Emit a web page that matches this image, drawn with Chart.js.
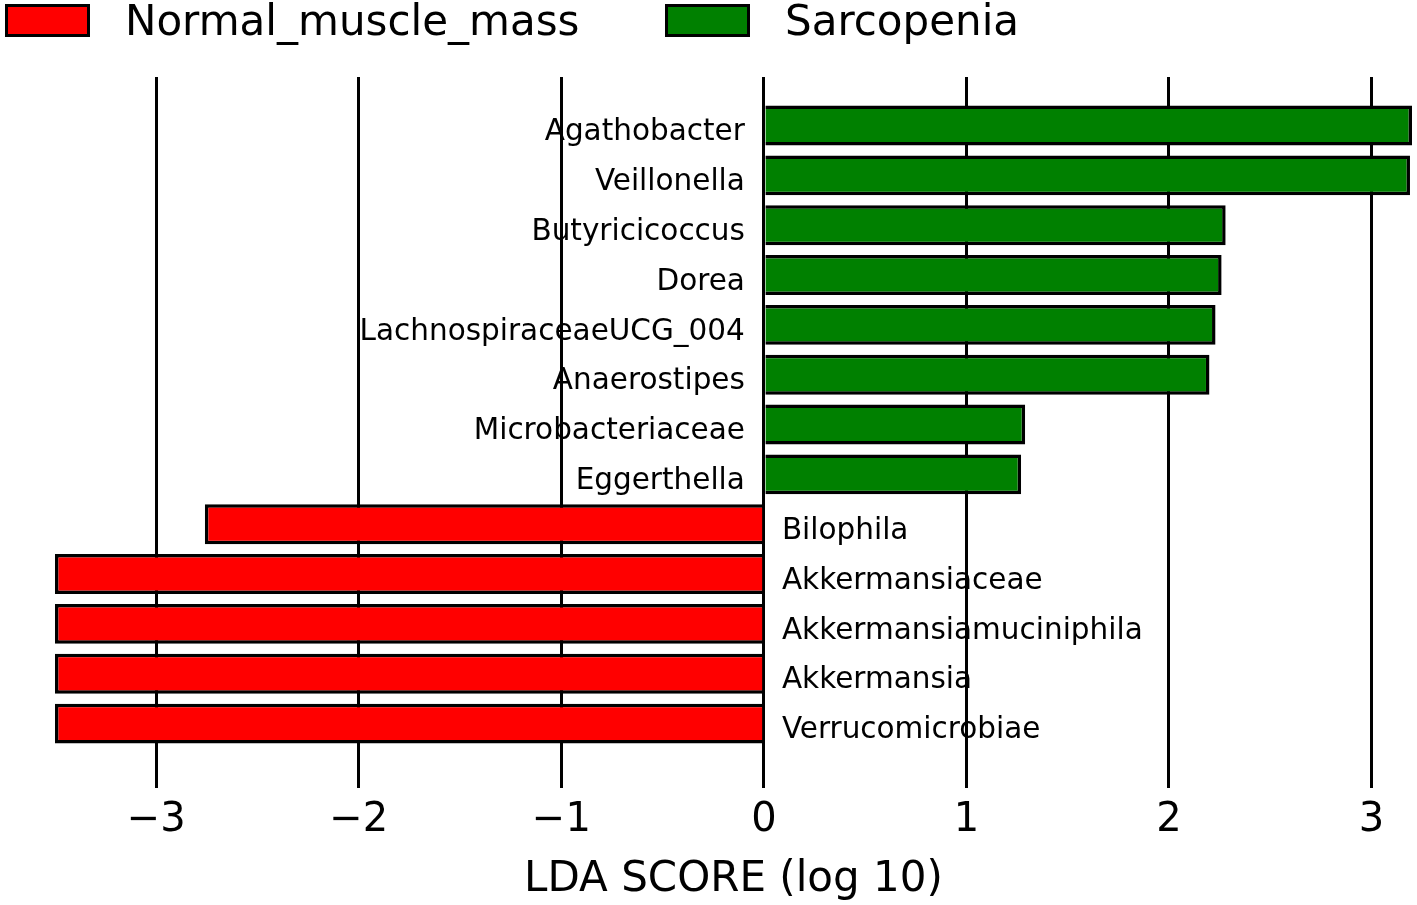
<!DOCTYPE html>
<html>
<head>
<meta charset="utf-8">
<script src="https://cdn.jsdelivr.net/npm/chart.js@4.4.1/dist/chart.umd.min.js"></script>
<style>
  html, body { margin: 0; padding: 0; background: #fff; }
  #wrap { width: 1417px; height: 905px; }
</style>
</head>
<body>
<div id="wrap"><canvas id="lda"></canvas></div>
<script>
// data
const taxa = [
  "Agathobacter", "Veillonella", "Butyricicoccus", "Dorea",
  "LachnospiraceaeUCG_004", "Anaerostipes", "Microbacteriaceae", "Eggerthella",
  "Bilophila", "Akkermansiaceae", "Akkermansiamuciniphila", "Akkermansia",
  "Verrucomicrobiae"
];
const sarcopenia = [3.2, 3.19, 2.28, 2.26, 2.23, 2.2, 1.29, 1.27, null, null, null, null, null];
const normalMass = [null, null, null, null, null, null, null, null, -2.76, -3.5, -3.5, -3.5, -3.5];
const xTicks = [-3, -2, -1, 0, 1, 2, 3];

const groups = ["Normal_muscle_mass", "Sarcopenia"];
const colors = ["#ff0000", "#008000"];
const FONT = "'DejaVu Sans', sans-serif";

function toPoints(vals) {
  const pts = [];
  vals.forEach((v, i) => { if (v !== null) pts.push({ x: v, y: i }); });
  return pts;
}

// legend drawn by hand (boxes + names on one row at the top)
const topLegend = {
  id: "topLegend",
  afterDraw(chart) {
    const ctx = chart.ctx;
    const spots = [[5, 125], [665, 785]];
    ctx.save();
    ctx.font = "42px " + FONT;
    ctx.textBaseline = "middle";
    ctx.textAlign = "left";
    groups.forEach((g, i) => {
      ctx.fillStyle = colors[i];
      ctx.fillRect(spots[i][0], 4, 85, 33);
      ctx.strokeStyle = "#000";
      ctx.lineWidth = 3;
      ctx.strokeRect(spots[i][0] + 1.5, 4 + 1.5, 82, 30);
      ctx.fillStyle = "#000";
      ctx.fillText(g, spots[i][1], 24);
    });
    ctx.restore();
  }
};

// taxon names next to the zero line
const taxonLabels = {
  id: "taxonLabels",
  afterDraw(chart) {
    const ctx = chart.ctx;
    const xs = chart.scales.x, ys = chart.scales.y;
    const x0 = xs.getPixelForValue(0);
    ctx.save();
    ctx.font = "29.5px " + FONT;
    ctx.fillStyle = "#000";
    ctx.textBaseline = "middle";
    taxa.forEach((t, i) => {
      const y = ys.getPixelForValue(i) + 7;
      if (sarcopenia[i] !== null) {
        ctx.textAlign = "right";
        ctx.fillText(t, x0 - 19, y);
      } else {
        ctx.textAlign = "left";
        ctx.fillText(t, x0 + 18, y);
      }
    });
    ctx.restore();
  }
};

new Chart(document.getElementById("lda"), {
  type: "bar",
  data: {
    datasets: [
      {
        label: groups[0],
        data: toPoints(normalMass),
        backgroundColor: colors[0],
        borderColor: "#000",
        borderWidth: 3.5,
        grouped: false,
        categoryPercentage: 1,
        barPercentage: 0.8,
      },
      {
        label: groups[1],
        data: toPoints(sarcopenia),
        backgroundColor: colors[1],
        borderColor: "#000",
        borderWidth: 3.5,
        grouped: false,
        categoryPercentage: 1,
        barPercentage: 0.8,
      },
    ],
  },
  options: {
    indexAxis: "y",
    responsive: true,
    maintainAspectRatio: false,
    animation: false,
    layout: { padding: { left: 55, right: 5, top: 77, bottom: 0 } },
    plugins: { legend: { display: false }, tooltip: { enabled: false } },
    scales: {
      x: {
        type: "linear",
        min: -3.5,
        max: 3.2,
        z: 1,
        afterBuildTicks: (axis) => { axis.ticks = xTicks.map((v) => ({ value: v })); },
        grid: { color: "#000", lineWidth: 3, drawTicks: false },
        border: { display: false },
        ticks: {
          color: "#000",
          padding: 13,
          font: { family: FONT, size: 40, lineHeight: 1 },
          callback: (v) => (v < 0 ? "\u2212" + Math.abs(v) : String(v)),
        },
        title: {
          display: true,
          text: "LDA SCORE (log 10)",
          color: "#000",
          font: { family: FONT, size: 42 },
          padding: { top: 1, bottom: 0 },
        },
      },
      y: {
        type: "linear",
        reverse: true,
        offset: false,
        min: -0.974,
        max: 13.285,
        display: false,
        grid: { offset: false },
        afterBuildTicks: (axis) => { axis.ticks = taxa.map((t, i) => ({ value: i })); },
      },
    },
  },
  plugins: [topLegend, taxonLabels],
});
</script>
</body>
</html>
